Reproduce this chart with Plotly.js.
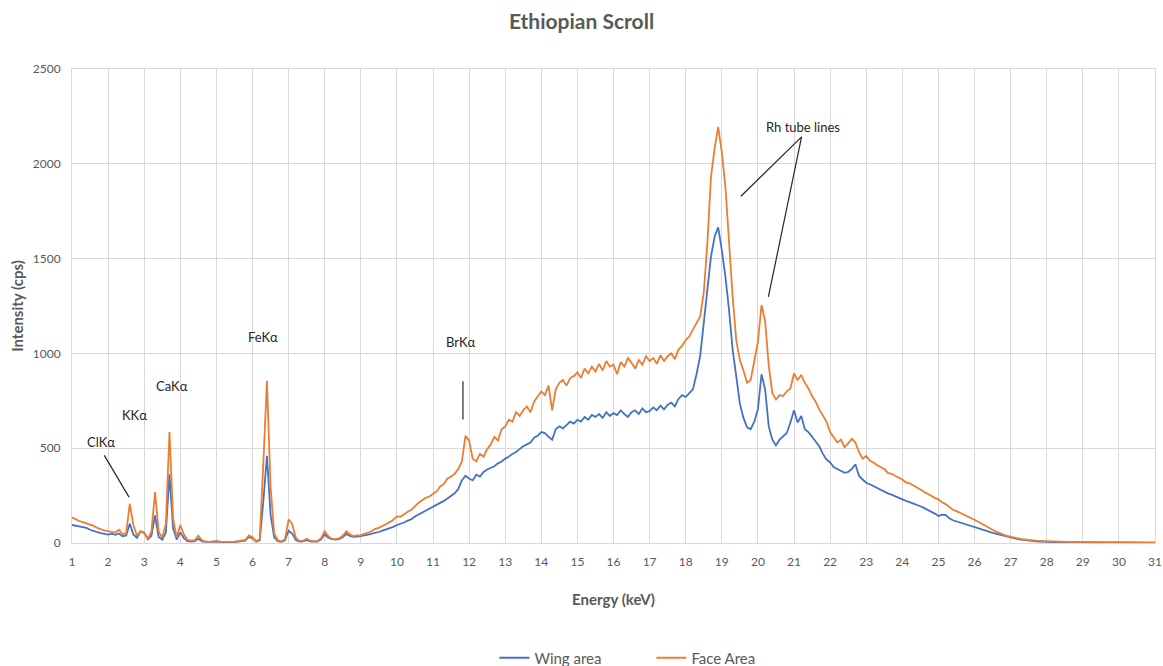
<!DOCTYPE html>
<html>
<head>
<meta charset="utf-8">
<script src="https://cdn.plot.ly/plotly-3.0.1.min.js"></script>
<style>html,body{margin:0;padding:0;background:#fff;}#chart{width:1163px;height:666px;}</style>
</head>
<body>
<div id="chart"></div>
<script>
// Energy axis (keV)
const energy = [
1.0,1.1,1.2,1.3,1.4,1.5,1.6,1.7,1.8,1.9,
2.0,2.1,2.2,2.3,2.4,2.5,2.6,2.7,2.8,2.9,
3.0,3.1,3.2,3.3,3.4,3.5,3.6,3.7,3.8,3.9,
4.0,4.1,4.2,4.3,4.4,4.5,4.6,4.7,4.8,4.9,
5.0,5.1,5.2,5.3,5.4,5.5,5.6,5.7,5.8,5.9,
6.0,6.1,6.2,6.3,6.4,6.5,6.6,6.7,6.8,6.9,
7.0,7.1,7.2,7.3,7.4,7.5,7.6,7.7,7.8,7.9,
8.0,8.1,8.2,8.3,8.4,8.5,8.6,8.7,8.8,8.9,
9.0,9.1,9.2,9.3,9.4,9.5,9.6,9.7,9.8,9.9,
10.0,10.1,10.2,10.3,10.4,10.5,10.6,10.7,10.8,10.9,
11.0,11.1,11.2,11.3,11.4,11.5,11.6,11.7,11.8,11.9,
12.0,12.1,12.2,12.3,12.4,12.5,12.6,12.7,12.8,12.9,
13.0,13.1,13.2,13.3,13.4,13.5,13.6,13.7,13.8,13.9,
14.0,14.1,14.2,14.3,14.4,14.5,14.6,14.7,14.8,14.9,
15.0,15.1,15.2,15.3,15.4,15.5,15.6,15.7,15.8,15.9,
16.0,16.1,16.2,16.3,16.4,16.5,16.6,16.7,16.8,16.9,
17.0,17.1,17.2,17.3,17.4,17.5,17.6,17.7,17.8,17.9,
18.0,18.1,18.2,18.3,18.4,18.5,18.6,18.7,18.8,18.9,
19.0,19.1,19.2,19.3,19.4,19.5,19.6,19.7,19.8,19.9,
20.0,20.1,20.2,20.3,20.4,20.5,20.6,20.7,20.8,20.9,
21.0,21.1,21.2,21.3,21.4,21.5,21.6,21.7,21.8,21.9,
22.0,22.1,22.2,22.3,22.4,22.5,22.6,22.7,22.8,22.9,
23.0,23.1,23.2,23.3,23.4,23.5,23.6,23.7,23.8,23.9,
24.0,24.1,24.2,24.3,24.4,24.5,24.6,24.7,24.8,24.9,
25.0,25.1,25.2,25.3,25.4,25.5,25.6,25.7,25.8,25.9,
26.0,26.1,26.2,26.3,26.4,26.5,26.6,26.7,26.8,26.9,
27.0,27.1,27.2,27.3,27.4,27.5,27.6,27.7,27.8,27.9,
28.0,28.1,28.2,28.3,28.4,28.5,28.6,28.7,28.8,28.9,
29.0,29.1,29.2,29.3,29.4,29.5,29.6,29.7,29.8,29.9,
30.0,30.1,30.2,30.3,30.4,30.5,30.6,30.7,30.8,30.9,
31.0];

// Wing area intensity (cps)
const wingArea = [
95,92,90,84,80,70,62,57,52,48,
44,49,43,50,35,40,102,45,27,62,
55,20,38,145,32,18,55,362,78,18,
56,26,10,8,10,22,9,6,5,6,
8,5,5,6,5,5,7,8,12,32,
24,7,14,220,460,150,30,10,6,14,
65,50,16,8,9,15,9,8,8,20,
45,28,20,18,20,30,48,38,32,34,
35,40,44,48,55,58,65,72,76,85,
95,100,108,118,125,140,150,160,170,178,
188,200,212,222,235,248,262,285,330,355,
340,330,360,350,375,388,395,405,420,430,
445,455,470,480,495,510,520,530,555,565,
585,580,560,545,600,615,605,625,640,630,
650,640,665,650,675,665,680,660,690,670,
685,675,700,680,665,690,700,680,710,690,
695,715,700,725,705,730,740,720,760,780,
770,790,810,890,985,1160,1335,1510,1615,1665,
1545,1405,1230,1020,880,735,660,610,600,640,
705,890,810,615,545,515,545,560,580,635,
700,635,670,600,585,560,535,510,470,440,
425,400,390,380,370,375,390,415,355,335,
318,310,300,290,280,273,262,255,246,238,
229,222,216,210,200,194,185,176,167,155,
142,150,148,130,120,114,108,102,96,92,
88,80,72,66,60,53,48,43,38,32,
26,23,20,18,15,13,11,9,7,6,
5,5,4,4,4,4,3,3,3,3,
3,3,3,3,2,2,2,2,2,2,
2,2,2,2,2,2,2,2,2,2,
2];

// Face Area intensity (cps)
const faceArea = [
135,125,116,110,104,97,90,80,72,66,
62,57,55,70,46,52,207,95,38,62,
52,24,60,268,60,28,100,585,130,30,
95,45,16,12,15,38,14,8,6,9,
11,7,6,8,6,7,9,10,16,40,
30,9,20,420,855,300,50,15,8,20,
125,100,28,10,12,22,12,10,9,25,
62,35,22,20,24,38,62,45,36,40,
42,48,55,62,75,80,90,98,110,122,
140,138,152,165,175,195,212,225,238,245,
260,272,298,310,340,350,365,390,430,565,
540,445,430,470,455,495,520,560,540,600,
615,650,640,690,670,700,720,690,745,770,
800,780,830,700,810,845,860,830,870,880,
900,870,920,895,930,905,945,910,960,930,
940,890,955,930,975,950,920,965,940,985,
960,975,945,990,960,985,1000,970,1020,1040,
1070,1090,1125,1160,1195,1320,1580,1930,2080,2195,
2060,1880,1580,1300,1070,965,910,845,860,965,
1060,1255,1170,935,790,757,780,775,800,815,
895,860,885,845,815,775,745,705,670,640,
585,560,530,545,505,525,550,530,480,445,
460,435,425,410,400,390,370,365,355,345,
335,320,315,305,295,282,270,258,248,238,
230,215,205,190,175,168,158,150,142,132,
123,112,100,88,78,70,60,50,44,38,
32,28,24,21,18,16,14,12,11,10,
9,8,8,7,7,7,6,6,6,5,
5,5,5,4,4,4,4,4,3,3,
3,3,3,3,3,3,2,2,2,2,
2];

const seriesNames = ['Wing area', 'Face Area'];
const seriesColors = ['#4472C4', '#ED7D31'];

// Peak labels: [text, energy, intensity]
const peakLabels = [
  ['ClKα', 1.80, 531],
  ['KKα', 2.72, 673],
  ['CaKα', 3.77, 826],
  ['FeKα', 6.29, 1085],
  ['BrKα', 11.75, 1059],
  ['Rh tube lines', 21.25, 2193]
];
// Pointer lines: [x0, y0, x1, y1] in energy / intensity
const pointerLines = [
  [1.895, 462, 2.58, 242],
  [11.83, 853, 11.83, 652],
  [21.21, 2142, 19.53, 1829],
  [21.21, 2142, 20.29, 1298]
];

const FONT = 'Lato, "Open Sans", "DejaVu Sans", sans-serif';
const GREY = '#595959';

const traces = [
  {x: energy, y: wingArea, name: seriesNames[0], type: 'scatter', mode: 'lines',
   line: {color: seriesColors[0], width: 1.8}},
  {x: energy, y: faceArea, name: seriesNames[1], type: 'scatter', mode: 'lines',
   line: {color: seriesColors[1], width: 1.8}}
];

const annotations = peakLabels.map(p => ({
  text: p[0], x: p[1], y: p[2], xref: 'x', yref: 'y', showarrow: false,
  xanchor: 'center', yanchor: 'middle',
  font: {family: FONT, size: 13, color: '#262626'}
}));

const shapes = pointerLines.map(l => ({
  type: 'line', xref: 'x', yref: 'y', x0: l[0], y0: l[1], x1: l[2], y1: l[3],
  line: {color: '#262626', width: 1.2}
}));

const layout = {
  width: 1163, height: 666,
  margin: {l: 72, r: 8, t: 69, b: 123},
  paper_bgcolor: '#ffffff', plot_bgcolor: '#ffffff',
  font: {family: FONT, color: GREY},
  title: {text: '<b>Ethiopian Scroll</b>', x: 0.5, xref: 'container', xanchor: 'center',
          y: 0.967, yref: 'container', yanchor: 'middle',
          font: {family: FONT, size: 21, color: GREY}},
  xaxis: {
    range: [1, 31], dtick: 1, tick0: 1, automargin: false,
    showgrid: true, gridcolor: '#d9d9d9', gridwidth: 1,
    showline: true, linecolor: '#d9d9d9', linewidth: 1, mirror: true,
    zeroline: false, ticks: '', ticklabelstandoff: 8,
    tickfont: {family: FONT, size: 12, color: GREY},
    title: {text: '<b>Energy (keV)</b>', standoff: 26, font: {family: FONT, size: 15, color: GREY}}
  },
  yaxis: {
    range: [0, 2500], dtick: 500, automargin: false,
    showgrid: true, gridcolor: '#d9d9d9', gridwidth: 1,
    showline: true, linecolor: '#d9d9d9', linewidth: 1, mirror: true,
    zeroline: false, ticks: '', ticklabelstandoff: 8,
    tickfont: {family: FONT, size: 12, color: GREY},
    title: {text: '<b>Intensity (cps)</b>', standoff: 5, font: {family: FONT, size: 15, color: GREY}}
  },
  showlegend: true,
  legend: {orientation: 'h', x: 0.535, xanchor: 'center', xref: 'paper',
           y: 0.012, yref: 'container', yanchor: 'middle', entrywidth: 112,
           font: {family: FONT, size: 15, color: GREY}, bgcolor: 'rgba(0,0,0,0)'},
  annotations: annotations,
  shapes: shapes
};

Plotly.newPlot('chart', traces, layout, {displayModeBar: false, staticPlot: true});
</script>
</body>
</html>
